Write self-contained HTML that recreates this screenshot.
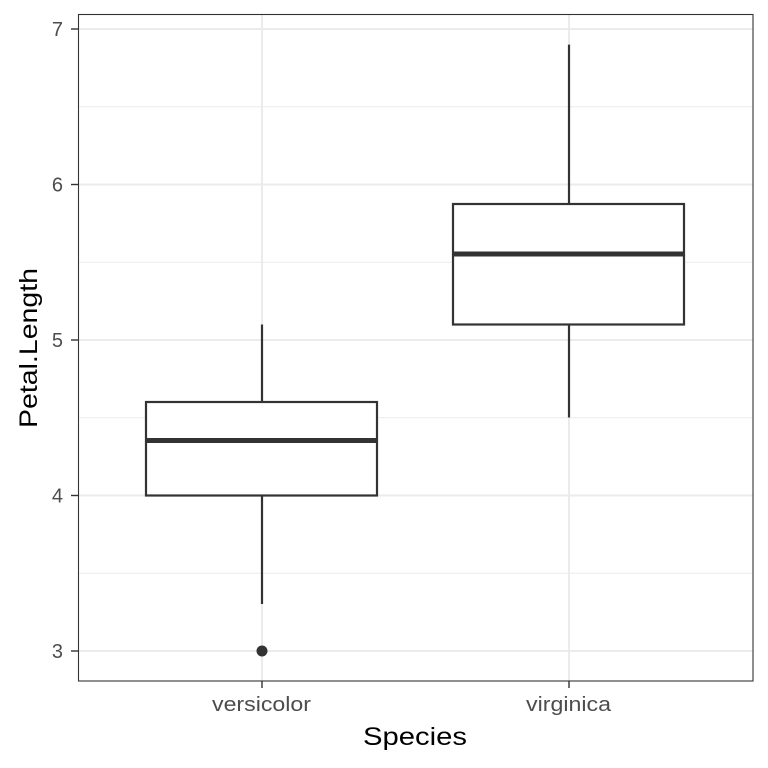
<!DOCTYPE html>
<html><head><meta charset="utf-8"><style>body{margin:0;background:#fff}svg{display:block}</style></head>
<body>
<svg width="768" height="768" xmlns="http://www.w3.org/2000/svg" font-family="Liberation Sans, sans-serif">
<rect width="768" height="768" fill="#fff"/>
<g stroke="#ebebeb" stroke-width="1">
<line x1="78" x2="753" y1="106.75" y2="106.75"/>
<line x1="78" x2="753" y1="262.25" y2="262.25"/>
<line x1="78" x2="753" y1="417.75" y2="417.75"/>
<line x1="78" x2="753" y1="573.25" y2="573.25"/>
</g>
<g stroke="#ebebeb" stroke-width="2">
<line x1="78" x2="753" y1="29" y2="29"/>
<line x1="78" x2="753" y1="184.5" y2="184.5"/>
<line x1="78" x2="753" y1="340" y2="340"/>
<line x1="78" x2="753" y1="495.5" y2="495.5"/>
<line x1="78" x2="753" y1="651" y2="651"/>
<line x1="262" x2="262" y1="14" y2="681"/>
<line x1="569" x2="569" y1="14" y2="681"/>
</g>
<g stroke="#333" stroke-width="2.2" fill="#fff">
<line x1="262" x2="262" y1="324.5" y2="402"/>
<line x1="262" x2="262" y1="495.5" y2="604"/>
<rect x="146" y="402" width="231" height="93.5"/>
<line x1="146" x2="377" y1="440.5" y2="440.5" stroke-width="5"/>
<line x1="569" x2="569" y1="44.6" y2="204"/>
<line x1="569" x2="569" y1="324.5" y2="417.5"/>
<rect x="453" y="204" width="231" height="120.5"/>
<line x1="453" x2="684" y1="254" y2="254" stroke-width="5"/>
</g>
<circle cx="262" cy="651" r="5.5" fill="#333"/>
<rect x="78.5" y="14.5" width="674.5" height="666.5" fill="none" stroke="#333" stroke-width="1.1"/>
<g stroke="#333" stroke-width="1.4">
<line x1="71" x2="78" y1="29" y2="29"/><line x1="71" x2="78" y1="184.5" y2="184.5"/>
<line x1="71" x2="78" y1="340" y2="340"/><line x1="71" x2="78" y1="495.5" y2="495.5"/>
<line x1="71" x2="78" y1="651" y2="651"/>
<line x1="262" x2="262" y1="681" y2="688"/><line x1="569" x2="569" y1="681" y2="688"/>
</g>
<g fill="#4d4d4d" font-size="20" text-anchor="end">
<text x="63" y="36">7</text><text x="63" y="191.5">6</text><text x="63" y="347">5</text>
<text x="63" y="502.5">4</text><text x="63" y="658">3</text>
</g>
<g fill="#4d4d4d" font-size="20">
<text x="212" y="711" textLength="99" lengthAdjust="spacingAndGlyphs">versicolor</text>
<text x="526" y="711" textLength="85" lengthAdjust="spacingAndGlyphs">virginica</text>
</g>
<text x="363" y="745" font-size="25" textLength="104" lengthAdjust="spacingAndGlyphs" fill="#000">Species</text>
<text transform="translate(37,428) rotate(-90)" font-size="25" textLength="160" lengthAdjust="spacingAndGlyphs" fill="#000">Petal.Length</text>
</svg>
</body></html>
